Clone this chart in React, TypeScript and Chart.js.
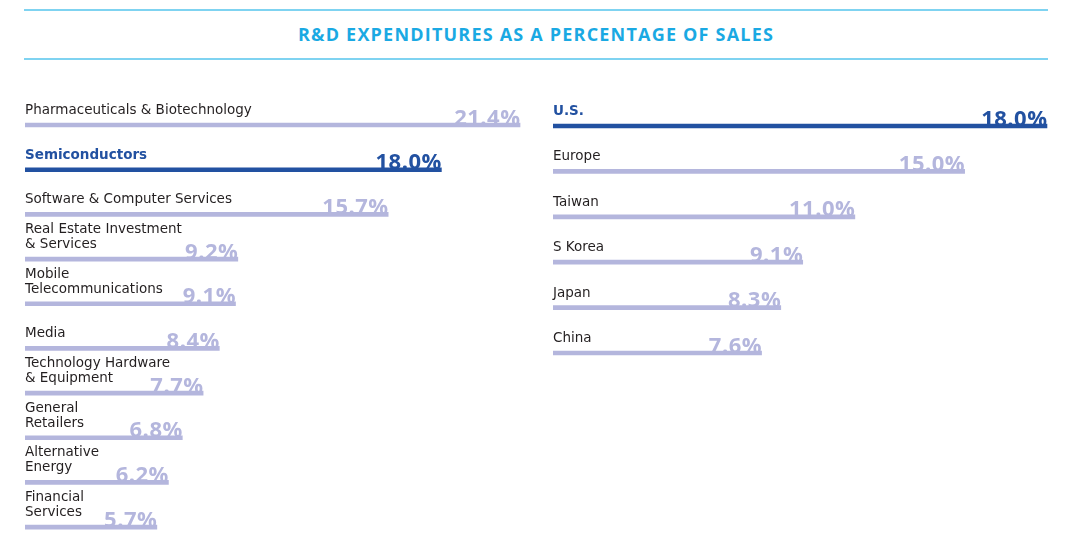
import { useEffect, useRef } from "react";
import { Chart, registerables } from "chart.js";

Chart.register(...registerables);

// ---- data ----
const title = "R&D EXPENDITURES AS A PERCENTAGE OF SALES";

const industryLabels: (string | string[])[] = [
  "Pharmaceuticals & Biotechnology",
  "Semiconductors",
  "Software & Computer Services",
  ["Real Estate Investment", "& Services"],
  ["Mobile", "Telecommunications"],
  "Media",
  ["Technology Hardware", "& Equipment"],
  ["General", "Retailers"],
  ["Alternative", "Energy"],
  ["Financial", "Services"],
];
const industryValues = [21.4, 18.0, 15.7, 9.2, 9.1, 8.4, 7.7, 6.8, 6.2, 5.7];
const industryHighlight = 1;

const regionLabels: string[] = ["U.S.", "Europe", "Taiwan", "S Korea", "Japan", "China"];
const regionValues = [18.0, 15.0, 11.0, 9.1, 8.3, 7.6];
const regionHighlight = 0;

// ---- styles ----
const LABEL_FONT = '"DejaVu Sans", sans-serif';
const VALUE_FONT = '"Open Sans", sans-serif';
const TEXT = "#231f20";
const DARK = "#2251a1";
const LIGHT = "#b4b6dd";
const CYAN = "#1aa9e3";
const CYAN_LINE = "#7fd3f1";

const labelPlugin = {
  id: "barLabels",
  afterDatasetsDraw(chart: any) {
    const ctx = chart.ctx as CanvasRenderingContext2D;
    const meta = chart.getDatasetMeta(0);
    const labels = chart.data.labels as (string | string[])[];
    const values = chart.data.datasets[0].data as number[];
    const hl = chart.options.plugins.barLabels.highlight;
    const left = chart.chartArea.left;
    meta.data.forEach((bar: any, i: number) => {
      const lines = Array.isArray(labels[i]) ? (labels[i] as string[]) : [labels[i] as string];
      const isHL = i === hl;
      ctx.save();
      ctx.font = `${isHL ? "bold " : ""}13.5px ${LABEL_FONT}`;
      ctx.fillStyle = isHL ? DARK : TEXT;
      ctx.textAlign = "left";
      ctx.textBaseline = "middle";
      lines.forEach((ln, j) => {
        ctx.fillText(ln, left, bar.y - 14.5 - (lines.length - 1 - j) * 15);
      });
      ctx.font = `bold 22px ${VALUE_FONT}`;
      (ctx as any).letterSpacing = "0.5px";
      ctx.fillStyle = isHL ? DARK : LIGHT;
      ctx.textAlign = "right";
      ctx.textBaseline = "alphabetic";
      ctx.fillText(values[i].toFixed(1) + "%", bar.x + 0.5, bar.y - 0.5);
      ctx.restore();
    });
  },
};

function makeChart(
  canvas: HTMLCanvasElement,
  labels: (string | string[])[],
  values: number[],
  highlight: number,
  max: number,
  padding: { left: number; right: number; top: number; bottom: number }
) {
  return new Chart(canvas, {
    type: "bar",
    data: {
      labels,
      datasets: [
        {
          data: values,
          backgroundColor: values.map((_, i) => (i === highlight ? DARK : LIGHT)),
          borderWidth: 0,
          barThickness: 4,
        },
      ],
    },
    options: {
      indexAxis: "y",
      animation: false,
      responsive: true,
      maintainAspectRatio: false,
      layout: { padding },
      scales: {
        x: { display: false, min: 0, max },
        y: { display: false },
      },
      plugins: {
        legend: { display: false },
        tooltip: { enabled: false },
        barLabels: { highlight },
      } as any,
    },
    plugins: [labelPlugin],
  });
}

export default function App() {
  const leftRef = useRef<HTMLCanvasElement>(null);
  const rightRef = useRef<HTMLCanvasElement>(null);

  useEffect(() => {
    const a = makeChart(leftRef.current!, industryLabels, industryValues, industryHighlight, 22, {
      left: 25,
      right: 6.1,
      top: 102.7,
      bottom: 8.6,
    });
    const b = makeChart(rightRef.current!, regionLabels, regionValues, regionHighlight, 19, {
      left: 13,
      right: 5.6,
      top: 103.3,
      bottom: 182.3,
    });
    return () => {
      a.destroy();
      b.destroy();
    };
  }, []);

  return (
    <div style={{ position: "absolute", left: 0, top: 0, width: 1080, height: 558, background: "#fff", overflow: "hidden" }}>
      <div style={{ position: "absolute", left: 24, top: 9, width: 1024, height: 2, background: CYAN_LINE }} />
      <div style={{ position: "absolute", left: 24, top: 57.5, width: 1024, height: 2, background: CYAN_LINE }} />
      <div
        style={{
          position: "absolute",
          left: 24,
          top: 22.5,
          width: 1024,
          textAlign: "center",
          fontFamily: '"Open Sans", sans-serif',
          fontWeight: 700,
          fontSize: 18,
          lineHeight: "22px",
          letterSpacing: "1.2px",
          color: CYAN,
          whiteSpace: "nowrap",
        }}
      >
        {title}
      </div>
      <div style={{ position: "absolute", left: 0, top: 0, width: 540, height: 558 }}>
        <canvas ref={leftRef} />
      </div>
      <div style={{ position: "absolute", left: 540, top: 0, width: 540, height: 558 }}>
        <canvas ref={rightRef} />
      </div>
    </div>
  );
}
